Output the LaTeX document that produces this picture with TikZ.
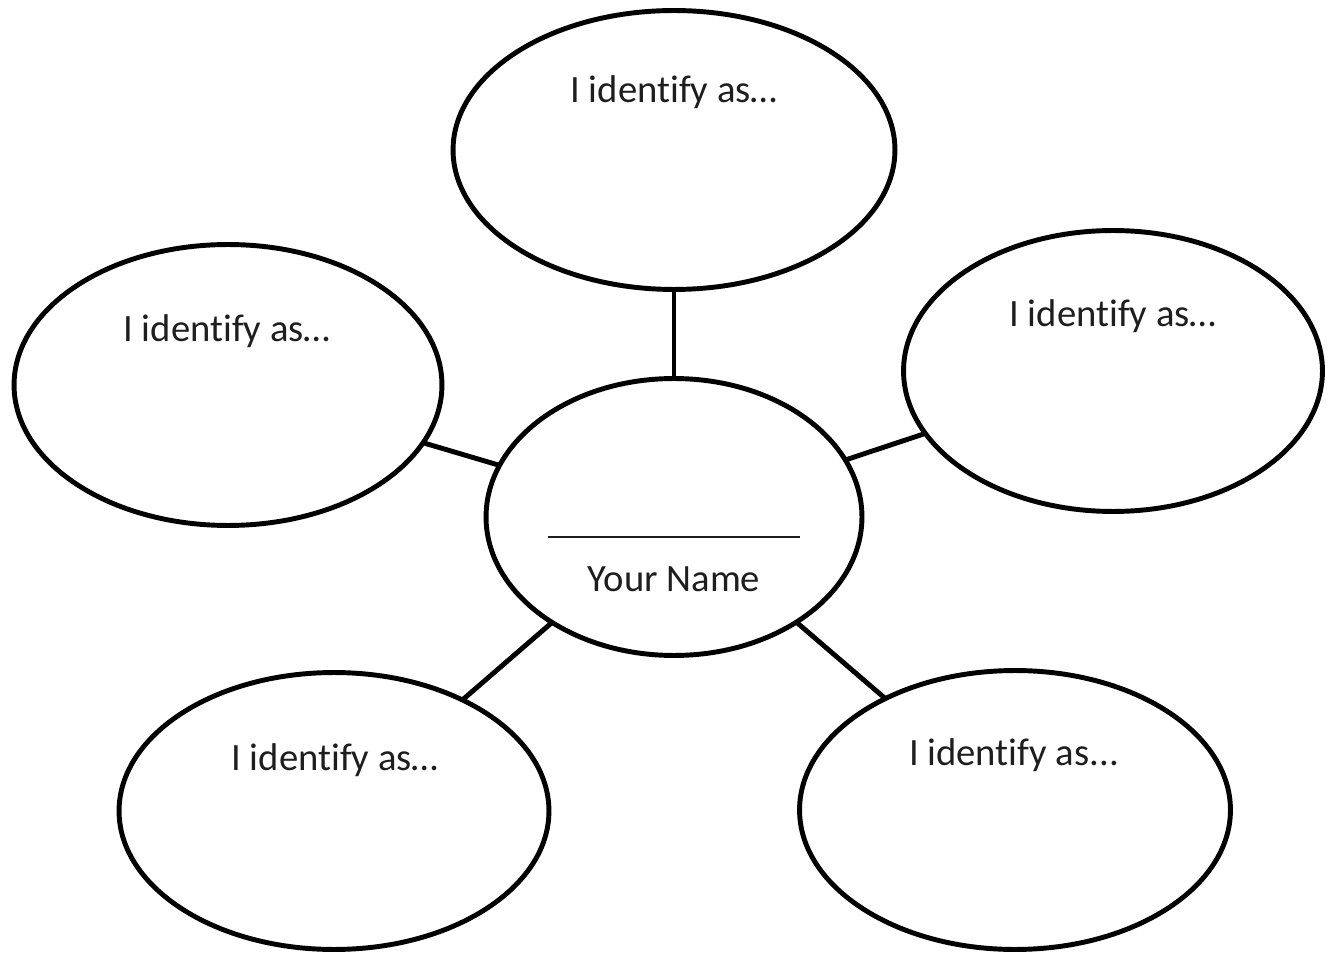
\documentclass[tikz,border=0pt]{standalone}
\usepackage{fontspec}
\setmainfont{Carlito}[Ligatures=NoCommon]
\usepackage{tikz}
\usetikzlibrary{shapes,calc,positioning}
\definecolor{tinta}{RGB}{30,30,30}
\tikzstyle{edge}  =[line width=2.8pt]
\tikzstyle{blob}  =[ellipse, draw, line width=2.8pt,
                    inner sep=0pt, outer sep=0pt]
\tikzstyle{idtext}=[anchor=base, text=tinta, inner sep=0pt,
                    font=\fontsize{22}{26}\selectfont]

\begin{document}
\begin{tikzpicture}[x=0.02cm,y=-0.02cm]
    \useasboundingbox (0,0) rectangle (1328,955);

    \node (name)[blob, minimum width=7.52cm, minimum height=5.54cm] at (674,517) {};
    \node (1)[blob, minimum width=8.84cm, minimum height=5.58cm] at (674,150) {};
    \node (2)[blob, minimum width=8.38cm, minimum height=5.62cm] at (1113,371) {};
    \node (3)[blob, minimum width=8.62cm, minimum height=5.58cm] at (1015,810) {};
    \node (4)[blob, minimum width=8.60cm, minimum height=5.54cm] at (334,811) {};
    \node (5)[blob, minimum width=8.56cm, minimum height=5.62cm] at (228,385) {};

    \node (t1)[idtext] at (674,103) {I identify as…};
    \node (t2)[idtext] at (1113,327) {I identify as…};
    \node (t3)[idtext] at (1014,765) {I identify as...};
    \node (t4)[idtext] at (335,770) {I identify as…};
    \node (t5)[idtext] at (227,342) {I identify as…};

    \coordinate (l1) at (548,537);
    \coordinate (l2) at (800,537);
    \draw [line width=1.4pt, tinta] (l1) -- (l2);
    \node (yn)[idtext] at (674,592) {Your Name};

    \foreach \i in {1,2,3,4,5}
        \draw [edge] (\i) to (name);
\end{tikzpicture}
\end{document}
